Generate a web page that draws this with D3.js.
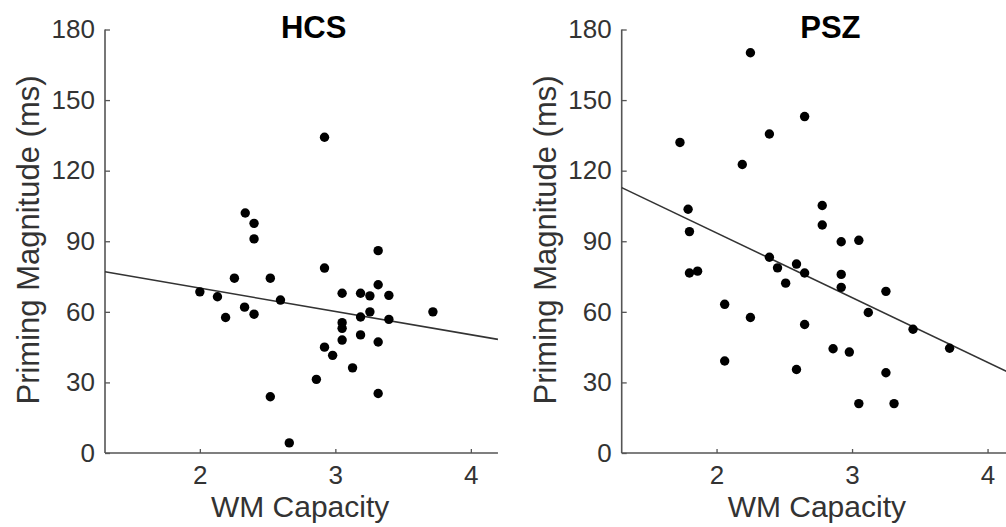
<!DOCTYPE html>
<html lang="en">
<head>
  <meta charset="UTF-8">
  <title>priming vs WM capacity</title>
  <script src="https://d3js.org/d3.v7.min.js" charset="utf-8"></script>
  <style>
    body { margin: 0; background: #fff; }
    text { font-family: "Liberation Sans", Arial, sans-serif; }
  </style>
</head>
<body>
<script>
  // HCS panel
  var hcsX = [2.335, 2.40, 2.40, 2.255, 2.52, 2.0, 2.13, 2.595, 2.33, 2.40, 2.19, 2.86, 2.52, 2.66,
              2.92, 3.316, 2.92, 3.316, 3.05, 3.186, 3.255, 3.395, 3.72, 3.255, 3.186, 3.395, 3.05,
              3.05, 3.05, 3.186, 3.316, 2.92, 2.98, 3.127, 3.316]
  var hcsY = [102, 97.6, 91, 74.3, 74.3, 68.5, 66.4, 65, 62, 59, 57.6, 31.3, 23.9, 4.3,
              134.2, 86, 78.6, 71.5, 67.9, 67.9, 66.8, 67, 60, 60, 57.8, 56.8, 55.4,
              53, 48, 50.2, 47.2, 45, 41.5, 36.2, 25.3]
  // PSZ panel
  var pszX = [2.25, 2.65, 2.39, 1.73, 2.19, 1.79, 2.78, 2.78, 1.80, 1.80, 1.86, 2.39, 2.45, 2.59,
              2.65, 2.51, 2.06, 2.25, 2.65, 2.06, 2.59, 2.92, 3.05, 2.92, 2.92, 3.25, 3.12, 3.45,
              3.72, 2.86, 2.98, 3.25, 3.05, 3.31]
  var pszY = [170.1, 143, 135.6, 132, 122.6, 103.6, 105.2, 96.9, 94.1, 76.5, 77.3, 83.2, 78.7, 80.3,
              76.5, 72.2, 63.2, 57.6, 54.6, 39.1, 35.5, 89.8, 90.4, 75.9, 70.4, 68.7, 59.7, 52.6,
              44.5, 44.3, 42.9, 34.1, 21, 21]
  // least squares lines: value at x=1.3 and slope
  var hcsFit = [77, -9.9]
  var pszFit = [112.8, -27.5]

  var xTicks = [2, 3, 4]
  var yTicks = [0, 30, 60, 90, 120, 150, 180]
  var xDomain = [1.3, 4.2]
  var titles = ['HCS', 'PSZ']

  var svg = d3.select('body').append('svg').attr('width', 1006).attr('height', 527)

  function panel(left, title, xs, ys, fit) {
    var x = d3.scaleLinear().domain(xDomain).range([left, left + 2.9 * 135.5])
    var y = d3.scaleLinear().domain([0, 180]).range([453, 29.5])
    var g = svg.append('g')

    var ax = g.append('g').attr('transform', 'translate(0,453)')
      .call(d3.axisBottom(x).tickValues(xTicks).tickSize(-4).tickPadding(13).tickFormat(d3.format('d')))
    var ay = g.append('g').attr('transform', 'translate(' + left + ',0)')
      .call(d3.axisLeft(y).tickValues(yTicks).tickSize(-5).tickPadding(10))
    ;[ax, ay].forEach(function(a) {
      a.select('.domain').attr('stroke', '#555').attr('stroke-width', 1.6)
      a.selectAll('.tick line').attr('stroke', '#555').attr('stroke-width', 1.3)
      a.selectAll('.tick text').attr('fill', '#333').attr('font-size', 26)
    })
    // plain axis lines, no end caps
    ax.select('.domain').attr('d', 'M' + x.range()[0] + ',0H' + x.range()[1])
    ay.select('.domain').attr('d', 'M0,' + y.range()[0] + 'V' + y.range()[1])
    ax.selectAll('.tick text').attr('dy', '0.71em')

    var line = d3.line().x(function(d) { return x(d) }).y(function(d) { return y(fit[0] + fit[1] * (d - xDomain[0])) })
    g.append('path').attr('d', line(xDomain)).attr('stroke', '#333').attr('stroke-width', 1.6).attr('fill', 'none')

    g.selectAll('circle.pt').data(xs).enter().append('circle')
      .attr('cx', function(d) { return x(d) })
      .attr('cy', function(d, i) { return y(ys[i]) })
      .attr('r', 4.7).attr('fill', '#000')

    g.append('text').attr('x', x(2.84)).attr('y', 38).attr('text-anchor', 'middle')
      .attr('font-size', 31).attr('font-weight', 'bold').attr('fill', '#000').text(title)
    g.append('text').attr('x', x(2.74)).attr('y', 517).attr('text-anchor', 'middle')
      .attr('font-size', 30).attr('fill', '#333').text('WM Capacity')
    g.append('text').attr('transform', 'translate(' + (left - 66) + ',240) rotate(-90)')
      .attr('text-anchor', 'middle').attr('font-size', 31).attr('fill', '#333').text('Priming Magnitude (ms)')
  }

  panel(105, titles[0], hcsX, hcsY, hcsFit)
  panel(621.7, titles[1], pszX, pszY, pszFit)
</script>
</body>
</html>
